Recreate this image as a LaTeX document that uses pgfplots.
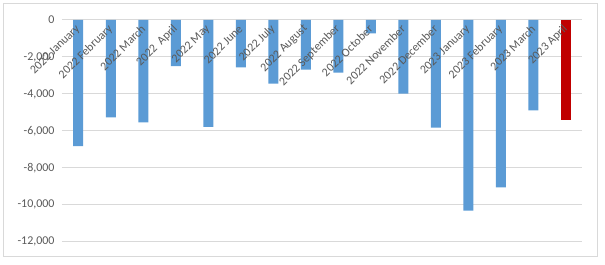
\documentclass[border=0pt]{standalone}
\usepackage{pgfplots}
\pgfplotsset{compat=1.18}
\usepackage{fontspec}
\setmainfont{Carlito}
\definecolor{barblue}{HTML}{5B9BD5}
\definecolor{barred}{HTML}{C00000}
\definecolor{gridc}{HTML}{D9D9D9}
\definecolor{txt}{HTML}{595959}
\pgfplotstableread{
x y
0 -6820
1 -5270
2 -5540
3 -2500
4 -5790
5 -2560
6 -3450
7 -2690
8 -2850
9 -720
10 -3990
11 -5830
12 -10320
13 -9060
14 -4890
}\blue
\pgfplotstableread{
x y
15 -5400
}\red
\pgfplotsset{common/.style={at={(0,0)}, anchor=south west,
  width=520bp, height=221.7bp, scale only axis,
  xmin=-0.5, xmax=15.5, ymin=-12000, ymax=0,
  axis line style={draw=none},
  major tick style={draw=none},
  xtick={0,...,15}}}
\begin{document}
\begin{tikzpicture}[x=1bp,y=1bp]
\useasboundingbox (-62,-22.3) rectangle (543,241.7);
\draw[gridc, line width=1bp] (-58,-15) rectangle (535,237.7);
\begin{axis}[common,
  ymajorgrids, grid style={gridc, line width=1bp},
  ytick={-12000,-10000,...,0},
  scaled y ticks=false,
  /pgf/number format/assume math mode=true,
  /pgf/number format/1000 sep={,},
  yticklabel style={font=\fontsize{12}{14}\selectfont, text=txt, xshift=-4bp},
  xticklabels={},
  ybar, bar width=10bp, bar shift=0pt,
]
\addplot[fill=barblue, draw=none] table[x=x,y=y]{\blue};
\addplot[fill=barred, draw=none] table[x=x,y=y]{\red};
\end{axis}
\begin{axis}[common,
  ytick=\empty,
  xticklabels={2022 January,2022 February,2022 March,2022~~April,2022 May,2022 June,2022 July,2022 August,2022 September,2022 October,2022 November,2022 December,2023 January,2023 February,2023 March,2023 April},
  xticklabel pos=upper,
  xticklabel style={font=\fontsize{12}{14}\selectfont, text=txt, yshift=-7bp, rotate=45, anchor=east, inner sep=0pt},
]
\end{axis}
\end{tikzpicture}
\end{document}
